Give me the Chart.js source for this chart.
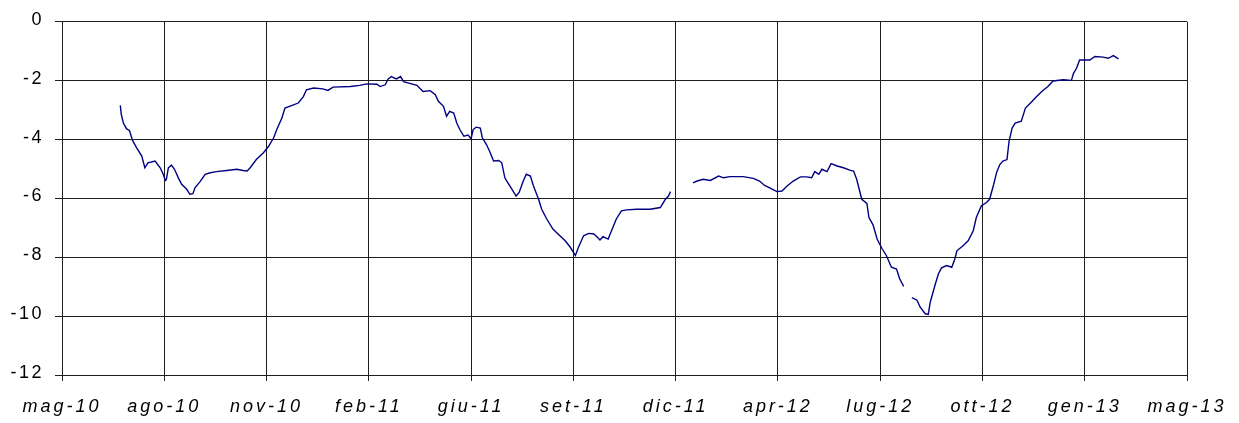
<!DOCTYPE html>
<html>
<head>
<meta charset="utf-8">
<script src="https://cdn.jsdelivr.net/npm/chart.js@4.4.1/dist/chart.umd.min.js"></script>
<style>
  html, body { margin: 0; padding: 0; background: #ffffff; }
  #wrap { width: 1239px; height: 423px; }
</style>
</head>
<body>
<div id="wrap"><canvas id="c" width="1239" height="423"></canvas></div>
<script>
// Axis tick labels (x axis ticks every 100 days from the axis start)
const xTickLabels = ['mag-10','ago-10','nov-10','feb-11','giu-11','set-11','dic-11','apr-12','lug-12','ott-12','gen-13','mag-13'];
const yTickValues = [0, -2, -4, -6, -8, -10, -12];

// Series: days since axis start, and values (null = gap in the data)
const xDays = [
  57, 58, 60, 63, 66, 69, 73, 78, 81, 84, 91, 96, 99, 101, 102, 104, 107, 110, 114, 117,
  122, 125, 128, 130, 135, 140, 145, 151, 161, 171, 177, 181, 184, 190, 197, 202, 207, 210, 215, 218,
  225, 231, 236, 239, 246, 255, 260, 265, 282, 291, 298, 308, 311, 316, 319, 322, 327, 331, 334, 340,
  347, 353, 360, 365, 368, 373, 376, 379, 383, 386, 389, 393, 397, 400, 402, 405, 409, 411, 415, 418,
  422, 427, 430, 433, 436, 440, 444, 447, 451, 454, 458, 461, 466, 469, 474, 480, 485, 492, 497, 502,
  505, 510, 515, 520, 523, 526, 529, 534, 538, 542, 547, 552, 562, 575, 585, 590, 593, 595,
  605,
  617, 621, 627, 634, 642, 647, 653, 666, 676, 682, 687, 692, 699, 704, 709, 715, 722, 728, 733, 736,
  740, 743, 748, 752, 758, 764, 771, 774, 777, 782, 787, 789, 793, 797, 802, 806, 811, 816, 819, 823,
  826,
  831, 836, 839, 844, 847, 849, 854, 857, 860, 865, 870, 873, 875, 881, 886, 891, 894, 899, 904, 907,
  911, 914, 917, 920, 924, 926, 929, 932, 938, 942, 947, 953, 958, 964, 969, 979, 987, 989, 992, 995,
  1005, 1010, 1018, 1023, 1028, 1033
];
const yValues = [
  -2.84, -3.15, -3.44, -3.63, -3.70, -4.03, -4.28, -4.56, -4.96, -4.79, -4.73, -4.96, -5.18, -5.39, -5.36, -4.96, -4.87, -5.01, -5.32, -5.52,
  -5.69, -5.86, -5.84, -5.64, -5.43, -5.18, -5.13, -5.09, -5.05, -5.01, -5.05, -5.07, -4.96, -4.68, -4.45, -4.23, -3.94, -3.66, -3.27, -2.93,
  -2.84, -2.76, -2.54, -2.31, -2.25, -2.28, -2.33, -2.22, -2.20, -2.16, -2.11, -2.12, -2.20, -2.14, -1.94, -1.86, -1.94, -1.86, -2.03, -2.09,
  -2.16, -2.37, -2.34, -2.48, -2.70, -2.87, -3.21, -3.04, -3.10, -3.44, -3.66, -3.89, -3.85, -3.97, -3.66, -3.58, -3.61, -3.94, -4.17, -4.39,
  -4.73, -4.71, -4.79, -5.30, -5.47, -5.69, -5.92, -5.80, -5.41, -5.18, -5.24, -5.58, -6.03, -6.37, -6.70, -7.04, -7.21, -7.44, -7.66, -7.94,
  -7.66, -7.27, -7.19, -7.21, -7.30, -7.41, -7.30, -7.38, -7.04, -6.70, -6.42, -6.39, -6.37, -6.37, -6.31, -6.03, -5.92, -5.77,
  null,
  -5.47, -5.41, -5.35, -5.39, -5.24, -5.30, -5.26, -5.26, -5.32, -5.41, -5.56, -5.64, -5.77, -5.75, -5.58, -5.41, -5.27, -5.27, -5.30, -5.09,
  -5.18, -5.01, -5.09, -4.82, -4.90, -4.96, -5.05, -5.07, -5.35, -6.03, -6.17, -6.65, -6.90, -7.38, -7.72, -7.94, -8.34, -8.40, -8.73, -8.99,
  null,
  -9.37, -9.46, -9.69, -9.92, -9.94, -9.52, -8.90, -8.56, -8.36, -8.28, -8.34, -8.06, -7.78, -7.61, -7.44, -7.10, -6.65, -6.25, -6.14, -6.03,
  -5.52, -5.10, -4.85, -4.73, -4.68, -4.06, -3.61, -3.44, -3.38, -2.93, -2.76, -2.54, -2.37, -2.20, -2.01, -1.97, -1.99, -1.75, -1.58, -1.30,
  -1.30, -1.18, -1.20, -1.24, -1.15, -1.26
];

const points = xDays.map((d, i) => ({ x: d, y: yValues[i] }));

const canvas = document.getElementById('c');
const ctx = canvas.getContext('2d');
const origFillText = ctx.fillText;
ctx.fillText = function (text, x, y, maxWidth) {
  this.letterSpacing = /italic/.test(this.font) ? '3px' : '2.5px';
  if (maxWidth === undefined) return origFillText.call(this, text, x, y);
  return origFillText.call(this, text, x, y, maxWidth);
};

const gridColor = '#1e1e1e';

new Chart(ctx, {
  type: 'line',
  data: {
    datasets: [{
      data: points,
      borderColor: '#000080',
      borderWidth: 1.4,
      pointRadius: 0,
      pointHoverRadius: 0,
      tension: 0,
      spanGaps: false,
      fill: false
    }]
  },
  options: {
    responsive: false,
    animation: false,
    devicePixelRatio: 1,
    layout: { padding: { left: 0, right: 52, top: 20, bottom: 0 } },
    plugins: { legend: { display: false }, tooltip: { enabled: false } },
    scales: {
      x: {
        type: 'linear',
        min: 0,
        max: 1100,
        afterFit: (s) => { s.height = 48; },
        grid: { color: gridColor, lineWidth: 1, tickLength: 6, drawTicks: true },
        border: { color: gridColor, width: 1 },
        ticks: {
          stepSize: 100,
          autoSkip: false,
          maxRotation: 0,
          padding: 15,
          color: '#000000',
          font: { family: '"Liberation Sans", Arial, sans-serif', size: 18, style: 'italic' },
          callback: (v) => xTickLabels[Math.round(v / 100)]
        }
      },
      y: {
        min: -12,
        max: 0,
        afterFit: (s) => { s.width = 62; },
        afterBuildTicks: (s) => { s.ticks = yTickValues.map(v => ({ value: v })); },
        grid: { color: gridColor, lineWidth: 1, tickLength: 7 },
        border: { color: gridColor, width: 1 },
        ticks: {
          stepSize: 2,
          padding: 11,
          labelOffset: -2,
          color: '#000000',
          font: { family: '"Liberation Sans", Arial, sans-serif', size: 18 },
          callback: (v) => String(v)
        }
      }
    }
  }
});
</script>
</body>
</html>
